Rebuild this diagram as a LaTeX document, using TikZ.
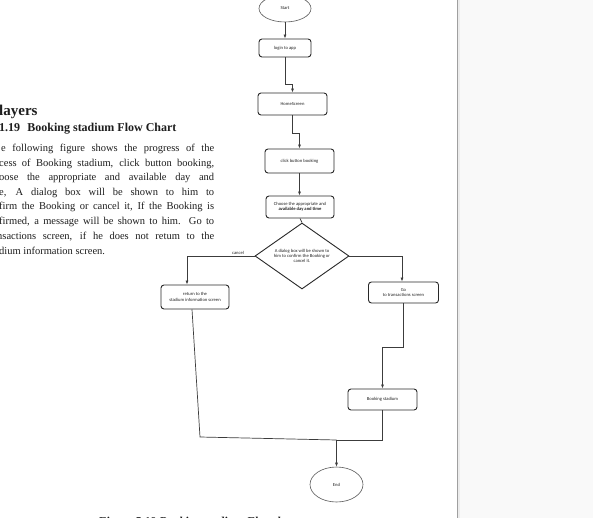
\documentclass[tikz,border=0pt]{standalone}
\usepackage{fontspec}
\setmainfont{Liberation Serif}
\newfontfamily\carl{Carlito}
\usetikzlibrary{shapes.geometric,arrows.meta,calc}
\definecolor{pagebg}{RGB}{249,249,249}
\definecolor{boxc}{RGB}{40,40,40}
\definecolor{termc}{RGB}{90,90,90}
\definecolor{linec}{RGB}{60,60,60}
\definecolor{txtc}{RGB}{35,35,35}
\definecolor{bodyc}{RGB}{30,30,30}
\newcommand\fcfont{\carl\fontsize{4.6}{5.4}\selectfont}
\tikzset{
  fbox/.style={draw=boxc, line width=0.9pt, rounded corners=3pt, fill=white, text=txtc, font=\fcfont, align=center, inner sep=1pt},
  term/.style={draw=termc, ellipse, line width=0.6pt, fill=white, text=txtc, font=\fcfont, inner sep=0pt},
  dec/.style={draw=boxc, diamond, line width=0.9pt, fill=white, text=txtc, font=\fcfont, align=center, inner sep=0pt, aspect=1.42},
  ln/.style={draw=linec, line width=0.7pt},
  arr/.style={ln, -{Latex[length=4pt,width=3pt]}},
  para/.style={anchor=base west, inner sep=0pt, text=bodyc, font=\fontsize{10.5}{12}\selectfont}
}
\begin{document}
\begin{tikzpicture}[x=1pt,y=-1pt]
\clip (0,0) rectangle (593,518);
\fill[white] (0,0) rectangle (593,518);
% right page panel
\fill[pagebg] (457,0) rectangle (593,518);
\fill[gray!15] (457.5,0) rectangle (460,518);
\draw[gray!75, line width=1pt] (457,0) -- (457,518);

% left text
\node[anchor=base west, inner sep=0pt, text=bodyc, font=\bfseries\fontsize{15}{18}\selectfont] (h1) at (-1,116) {layers};
\node[anchor=base west, inner sep=0pt, text=bodyc, font=\bfseries\fontsize{12}{14}\selectfont] (h2) at (-1,132) {1.19\hspace{0.6em}Booking stadium Flow Chart};
\node[para] (p1) at (1,151.5) {\makebox[213pt][s]{e following figure shows the progress of the}};
\node[para] (p2) at (-1,166.5) {\makebox[215pt][s]{cess of Booking stadium, click button booking,}};
\node[para] (p3) at (-1,180.5) {\makebox[215pt][s]{oose the appropriate and available day and}};
\node[para] (p4) at (-1,195.5) {\makebox[215pt][s]{e, A dialog box will be shown to him to}};
\node[para] (p5) at (-1,209.5) {\makebox[215pt][s]{firm the Booking or cancel it, If the Booking is}};
\node[para] (p6) at (-1,224.5) {\makebox[215pt][s]{firmed, a message will be shown to him. Go to}};
\node[para] (p7) at (-3,239.5) {\makebox[217pt][s]{nsactions screen, if he does not retum to the}};
\node[para] (p8) at (-1,254.5) {dium information screen.};

% caption
\node[anchor=base west, inner sep=0pt, text=bodyc, font=\bfseries\itshape\fontsize{12}{14}\selectfont] (cap) at (98,525.5) {Figure 5.19 Booking stadium Flowchart};

% flowchart nodes
\node[term, minimum width=52pt, minimum height=27pt] (start) at (285,8.5) {Start};
\node[fbox, minimum width=52pt, minimum height=18pt] (login) at (285,48) {login to app};
\node[fbox, minimum width=69pt, minimum height=22pt] (home) at (292.5,104) {HomeScreen};
\node[fbox, minimum width=69pt, minimum height=24pt] (click) at (299.5,161) {click button booking};
\node[fbox, minimum width=68pt, minimum height=22pt] (choose) at (300,207) {Choose the appropriate and\\\textbf{available day and time}};
\node[dec, minimum width=94pt, minimum height=66pt] (dia) at (302,256) {A dialog box will be shown to\\him to confirm the Booking or\\cancel it.};
\node[fbox, minimum width=68pt, minimum height=24pt] (ret) at (195,297) {return to the\\stadium information screen};
\node[fbox, minimum width=70pt, minimum height=21pt] (go) at (403.5,292.5) {Go\\to transactions screen};
\node[fbox, minimum width=69pt, minimum height=21pt] (book) at (382.5,399.5) {Booking stadium};
\node[term, minimum width=53pt, minimum height=35pt] (end) at (336.5,484.5) {End};

\coordinate (bl) at (200,437);
\coordinate (j) at (336.5,440);
\coordinate (rl) at (187,0);

% connectors
\draw[arr] (start.south) -- (login.north);
\draw[arr] (login.south) -- ++(0,27) -| (home.north);
\draw[arr] (home.south) -- ++(0,18) -| (click.north);
\draw[arr] (click.south) -- (click.south |- choose.north);
\draw[ln] (choose.south) -- (dia.north);
\draw[arr] (dia.west) -| (rl |- ret.north);
\node[anchor=south, inner sep=1pt, text=txtc, font=\fcfont] (cancel) at (238,256) {cancel};
\draw[arr] (dia.east) -| ([xshift=-1.5pt]go.north);
\draw[arr] (go.south) -- ++(0,44) -| (book.north);
\draw[ln] ([xshift=-3pt]ret.south) -- (bl) -- (j);
\draw[ln] (book.south) |- (j);
\draw[arr] (j) -- (end.north);
\end{tikzpicture}
\end{document}
